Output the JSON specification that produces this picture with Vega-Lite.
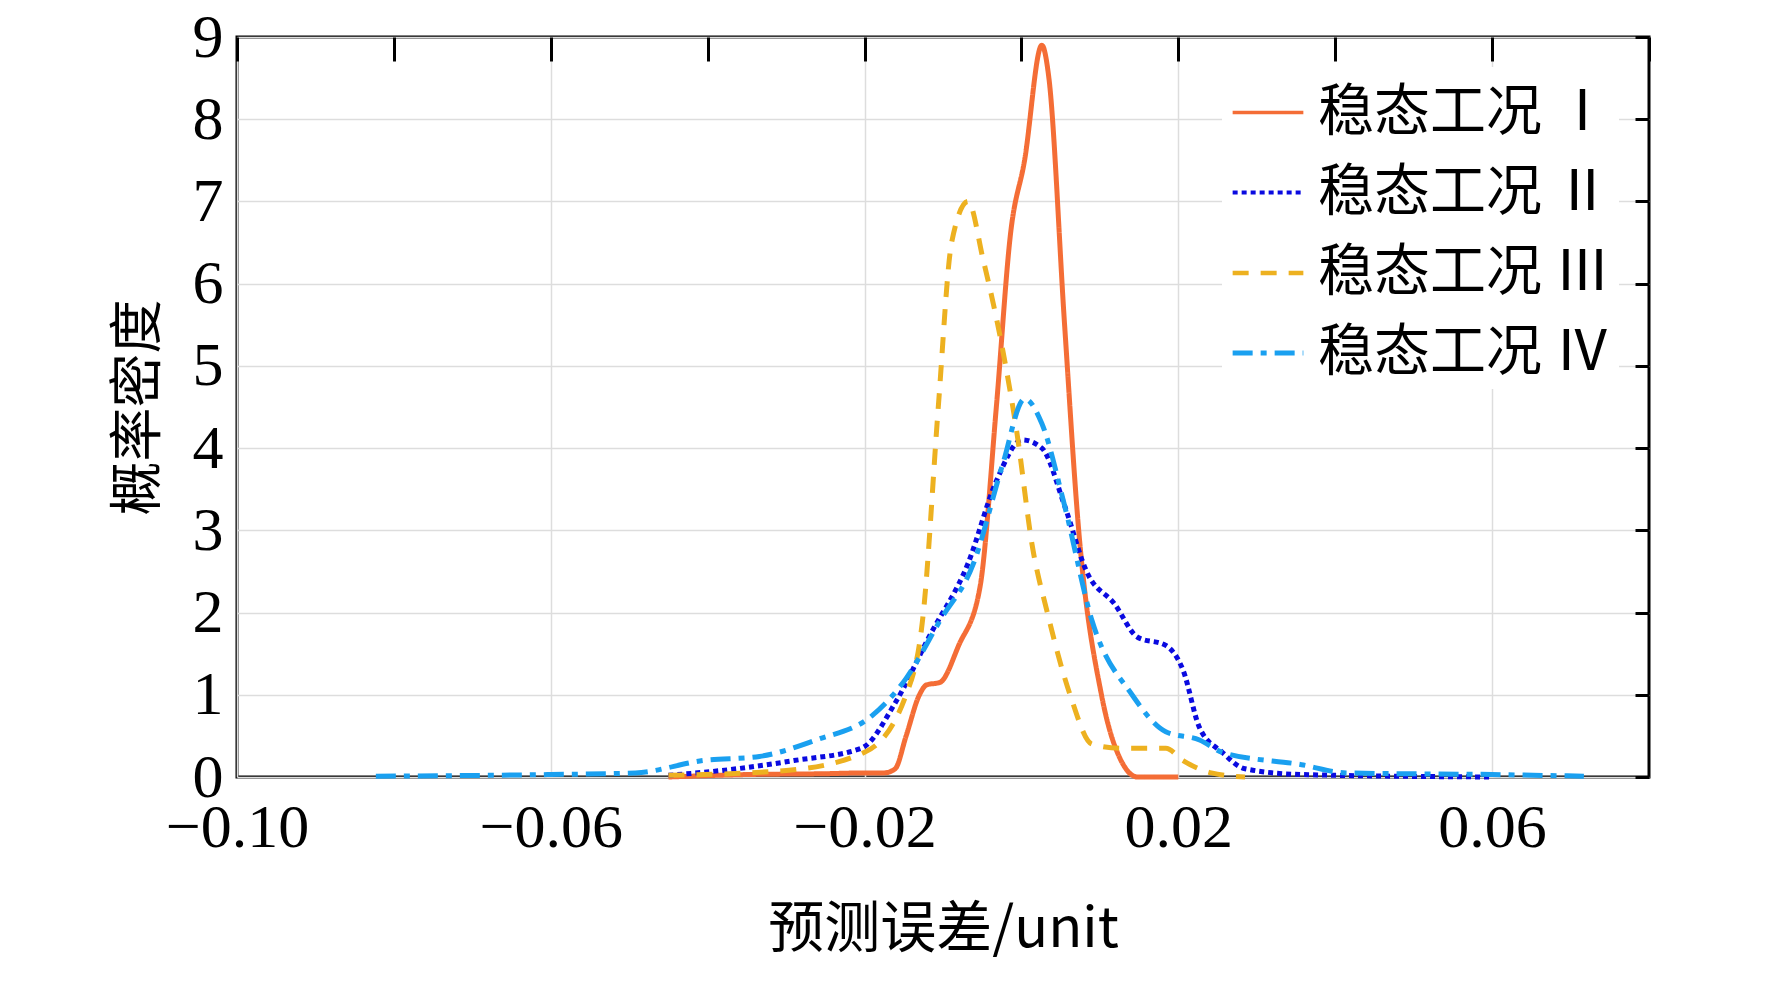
{
  "$schema": "https://vega.github.io/schema/vega-lite/v6.json",
  "width": 1412,
  "height": 740,
  "autosize": "none",
  "padding": {"left": 237, "top": 37, "right": 123, "bottom": 214},
  "background": "white",
  "config": {
    "view": {"stroke": "black", "strokeWidth": 3},
    "font": "Liberation Serif"
  },
  "data": {
    "values": [
      {"s": "稳态工况 Ⅰ", "x": -0.045, "y": 0},
      {"s": "稳态工况 Ⅰ", "x": -0.035, "y": 0.03},
      {"s": "稳态工况 Ⅰ", "x": -0.025, "y": 0.04},
      {"s": "稳态工况 Ⅰ", "x": -0.02, "y": 0.05},
      {"s": "稳态工况 Ⅰ", "x": -0.0175, "y": 0.05},
      {"s": "稳态工况 Ⅰ", "x": -0.0161, "y": 0.1},
      {"s": "稳态工况 Ⅰ", "x": -0.0147, "y": 0.5},
      {"s": "稳态工况 Ⅰ", "x": -0.013, "y": 1.0},
      {"s": "稳态工况 Ⅰ", "x": -0.0121, "y": 1.12},
      {"s": "稳态工况 Ⅰ", "x": -0.0104, "y": 1.15},
      {"s": "稳态工况 Ⅰ", "x": -0.008, "y": 1.6},
      {"s": "稳态工况 Ⅰ", "x": -0.0053, "y": 2.3},
      {"s": "稳态工况 Ⅰ", "x": -0.0032, "y": 4.5},
      {"s": "稳态工况 Ⅰ", "x": -0.0014, "y": 6.6},
      {"s": "稳态工况 Ⅰ", "x": 0.0004, "y": 7.5},
      {"s": "稳态工况 Ⅰ", "x": 0.0026, "y": 8.9},
      {"s": "稳态工况 Ⅰ", "x": 0.0035, "y": 8.5},
      {"s": "稳态工况 Ⅰ", "x": 0.0055, "y": 5.5},
      {"s": "稳态工况 Ⅰ", "x": 0.0073, "y": 3.0},
      {"s": "稳态工况 Ⅰ", "x": 0.0102, "y": 1.0},
      {"s": "稳态工况 Ⅰ", "x": 0.0127, "y": 0.2},
      {"s": "稳态工况 Ⅰ", "x": 0.0148, "y": 0.0},
      {"s": "稳态工况 Ⅰ", "x": 0.02, "y": 0.0},
      {"s": "稳态工况 Ⅱ", "x": -0.045, "y": 0.02},
      {"s": "稳态工况 Ⅱ", "x": -0.0363, "y": 0.1},
      {"s": "稳态工况 Ⅱ", "x": -0.029, "y": 0.2},
      {"s": "稳态工况 Ⅱ", "x": -0.0204, "y": 0.35},
      {"s": "稳态工况 Ⅱ", "x": -0.0161, "y": 0.9},
      {"s": "稳态工况 Ⅱ", "x": -0.0118, "y": 1.7},
      {"s": "稳态工况 Ⅱ", "x": -0.0068, "y": 2.6},
      {"s": "稳态工况 Ⅱ", "x": -0.0032, "y": 3.6},
      {"s": "稳态工况 Ⅱ", "x": 0.0001, "y": 4.1},
      {"s": "稳态工况 Ⅱ", "x": 0.0026, "y": 4.0},
      {"s": "稳态工况 Ⅱ", "x": 0.0055, "y": 3.3},
      {"s": "稳态工况 Ⅱ", "x": 0.0083, "y": 2.5},
      {"s": "稳态工况 Ⅱ", "x": 0.0119, "y": 2.1},
      {"s": "稳态工况 Ⅱ", "x": 0.0148, "y": 1.7},
      {"s": "稳态工况 Ⅱ", "x": 0.0184, "y": 1.6},
      {"s": "稳态工况 Ⅱ", "x": 0.0206, "y": 1.3},
      {"s": "稳态工况 Ⅱ", "x": 0.0227, "y": 0.6},
      {"s": "稳态工况 Ⅱ", "x": 0.0256, "y": 0.3},
      {"s": "稳态工况 Ⅱ", "x": 0.0285, "y": 0.1},
      {"s": "稳态工况 Ⅱ", "x": 0.0357, "y": 0.03},
      {"s": "稳态工况 Ⅱ", "x": 0.06, "y": 0.0},
      {"s": "稳态工况 Ⅲ", "x": -0.045, "y": 0.02},
      {"s": "稳态工况 Ⅲ", "x": -0.03, "y": 0.08},
      {"s": "稳态工况 Ⅲ", "x": -0.02, "y": 0.3},
      {"s": "稳态工况 Ⅲ", "x": -0.0147, "y": 1.0},
      {"s": "稳态工况 Ⅲ", "x": -0.0125, "y": 2.0},
      {"s": "稳态工况 Ⅲ", "x": -0.0106, "y": 4.5},
      {"s": "稳态工况 Ⅲ", "x": -0.0089, "y": 6.5},
      {"s": "稳态工况 Ⅲ", "x": -0.0068, "y": 7.0},
      {"s": "稳态工况 Ⅲ", "x": -0.0049, "y": 6.3},
      {"s": "稳态工况 Ⅲ", "x": -0.0024, "y": 5.2},
      {"s": "稳态工况 Ⅲ", "x": -0.0006, "y": 4.2},
      {"s": "稳态工况 Ⅲ", "x": 0.0014, "y": 2.8},
      {"s": "稳态工况 Ⅲ", "x": 0.0033, "y": 2.0},
      {"s": "稳态工况 Ⅲ", "x": 0.0062, "y": 1.0},
      {"s": "稳态工况 Ⅲ", "x": 0.009, "y": 0.4},
      {"s": "稳态工况 Ⅲ", "x": 0.0127, "y": 0.35},
      {"s": "稳态工况 Ⅲ", "x": 0.0184, "y": 0.35},
      {"s": "稳态工况 Ⅲ", "x": 0.0206, "y": 0.2},
      {"s": "稳态工况 Ⅲ", "x": 0.0242, "y": 0.05},
      {"s": "稳态工况 Ⅲ", "x": 0.0285, "y": 0.0},
      {"s": "稳态工况 Ⅳ", "x": -0.0823, "y": 0.01},
      {"s": "稳态工况 Ⅳ", "x": -0.06, "y": 0.03},
      {"s": "稳态工况 Ⅳ", "x": -0.0492, "y": 0.05},
      {"s": "稳态工况 Ⅳ", "x": -0.0406, "y": 0.2},
      {"s": "稳态工况 Ⅳ", "x": -0.0334, "y": 0.25},
      {"s": "稳态工况 Ⅳ", "x": -0.0262, "y": 0.45},
      {"s": "稳态工况 Ⅳ", "x": -0.019, "y": 0.75},
      {"s": "稳态工况 Ⅳ", "x": -0.0147, "y": 1.2},
      {"s": "稳态工况 Ⅳ", "x": -0.0104, "y": 1.9},
      {"s": "稳态工况 Ⅳ", "x": -0.0061, "y": 2.6},
      {"s": "稳态工况 Ⅳ", "x": -0.0024, "y": 3.8},
      {"s": "稳态工况 Ⅳ", "x": 0.0004, "y": 4.6},
      {"s": "稳态工况 Ⅳ", "x": 0.0026, "y": 4.3},
      {"s": "稳态工况 Ⅳ", "x": 0.0055, "y": 3.3},
      {"s": "稳态工况 Ⅳ", "x": 0.009, "y": 1.9},
      {"s": "稳态工况 Ⅳ", "x": 0.0141, "y": 1.0},
      {"s": "稳态工况 Ⅳ", "x": 0.0184, "y": 0.55},
      {"s": "稳态工况 Ⅳ", "x": 0.0227, "y": 0.45},
      {"s": "稳态工况 Ⅳ", "x": 0.0256, "y": 0.3},
      {"s": "稳态工况 Ⅳ", "x": 0.0357, "y": 0.15},
      {"s": "稳态工况 Ⅳ", "x": 0.0414, "y": 0.05},
      {"s": "稳态工况 Ⅳ", "x": 0.06, "y": 0.03},
      {"s": "稳态工况 Ⅳ", "x": 0.0717, "y": 0.01}
    ]
  },
  "layer": [
    {
      "mark": {"type": "line", "strokeWidth": 5, "interpolate": "monotone"},
      "encoding": {
        "x": {
          "field": "x", "type": "quantitative",
          "scale": {"domain": [-0.1, 0.08], "nice": false},
          "axis": {
            "title": "预测误差/unit", "values": [-0.1, -0.06, -0.02, 0.02, 0.06],
            "format": ".2f", "labelExpr": "replace(datum.label, '-', '−')",
            "labelFont": "Liberation Serif", "labelFontSize": 62, "labelColor": "black", "labelPadding": 20,
            "labelOverlap": false, "labelFlush": false,
            "titleFont": "Noto Sans CJK SC", "titleFontSize": 56, "titleFontWeight": "normal", "titleColor": "black", "titlePadding": 44,
            "ticks": false, "domain": false, "grid": true, "gridColor": "#dddddd", "gridWidth": 1.5
          }
        },
        "y": {
          "field": "y", "type": "quantitative",
          "scale": {"domain": [0, 9], "nice": false},
          "axis": {
            "title": "概率密度", "values": [0,1,2,3,4,5,6,7,8,9],
            "labelFont": "Liberation Serif", "labelFontSize": 62, "labelColor": "black", "labelPadding": 14,
            "labelOverlap": false, "labelFlush": false,
            "titleFont": "Noto Sans CJK SC", "titleFontSize": 54, "titleFontWeight": "normal", "titleColor": "black", "titlePadding": 26,
            "ticks": false, "domain": false, "grid": true, "gridColor": "#dddddd", "gridWidth": 1.5
          }
        },
        "color": {
          "field": "s", "type": "nominal",
          "scale": {"range": ["#f46d36", "#0a0ae0", "#edb120", "#1aa0f0"]},
          "legend": {
            "title": null, "orient": "top-right", "offset": 30,
            "fillColor": "white", "padding": 8,
            "labelFont": "Noto Sans CJK SC", "labelFontSize": 56, "labelColor": "black", "labelLimit": 500,
            "symbolType": "stroke", "symbolSize": 5000, "symbolStrokeWidth": 6, "rowPadding": 14, "labelOffset": 12
          }
        },
        "strokeDash": {
          "field": "s", "type": "nominal",
          "scale": {"range": [[1, 0], [5, 4], [16, 12], [20, 8, 6, 8]]},
          "legend": null
        },
        "strokeWidth": {
          "field": "s", "type": "nominal",
          "scale": {"range": [3.5, 5, 5, 5.5]},
          "legend": null
        }
      }
    },
    {
      "mark": {"type": "line", "opacity": 0},
      "encoding": {
        "x": {
          "field": "x", "type": "quantitative",
          "axis": {"orient": "top", "title": null, "labels": false, "grid": false, "domain": false,
                   "values": [-0.1, -0.08, -0.06, -0.04, -0.02, 0, 0.02, 0.04, 0.06, 0.08],
                   "tickSize": -24, "tickWidth": 3, "tickColor": "black"}
        },
        "y": {
          "field": "y", "type": "quantitative",
          "axis": {"orient": "right", "title": null, "labels": false, "grid": false, "domain": false,
                   "values": [0,1,2,3,4,5,6,7,8,9],
                   "tickSize": -14, "tickWidth": 3, "tickColor": "black"}
        },
        "detail": {"field": "s"}
      }
    }
  ],
  "resolve": {"axis": {"x": "independent", "y": "independent"}}
}
